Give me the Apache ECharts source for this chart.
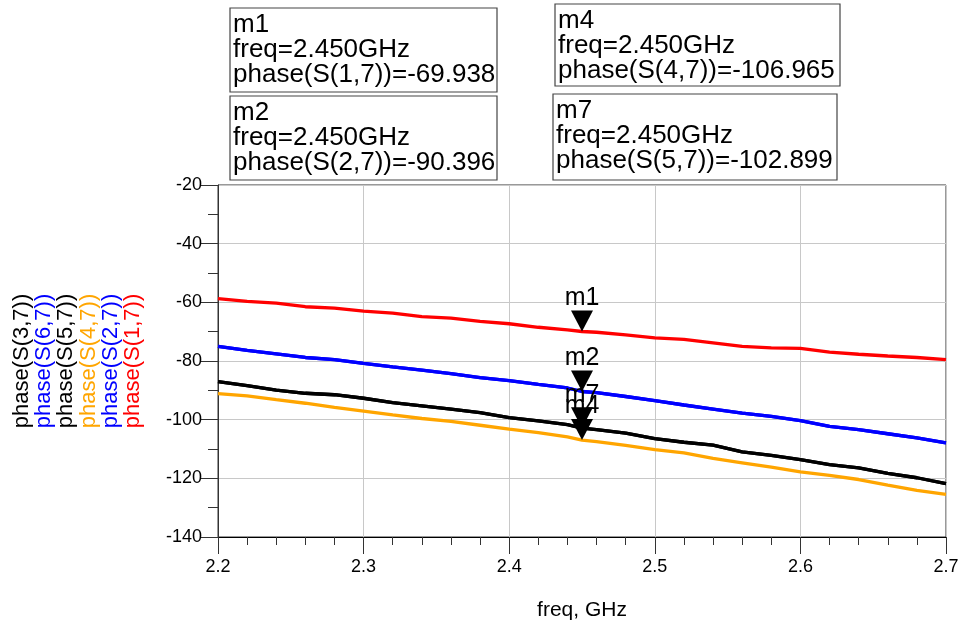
<!DOCTYPE html>
<html>
<head>
<meta charset="utf-8">
<script src="https://cdn.jsdelivr.net/npm/echarts@6/dist/echarts.min.js"></script>
<style>
html,body{margin:0;padding:0;background:#fff;}
#chart{width:962px;height:626px;}
</style>
</head>
<body>
<div id="chart"></div>
<script>
// frequency points (GHz)
var freq = [2.20,2.22,2.24,2.26,2.28,2.30,2.32,2.34,2.36,2.38,2.40,2.42,2.44,2.45,2.46,2.48,2.50,2.52,2.54,2.56,2.58,2.60,2.62,2.64,2.66,2.68,2.70];
// phase values (degrees)
var s17 = [-58.7,-59.7,-60.3,-61.5,-62.0,-63.0,-63.7,-64.9,-65.4,-66.5,-67.3,-68.5,-69.4,-69.938,-70.2,-71.1,-72.1,-72.6,-73.8,-75.0,-75.5,-75.7,-77.0,-77.7,-78.3,-78.8,-79.5];
var s27 = [-75.0,-76.4,-77.6,-78.8,-79.5,-80.8,-82.0,-83.1,-84.3,-85.7,-86.7,-88.0,-89.2,-90.396,-90.8,-92.1,-93.5,-95.0,-96.4,-97.8,-98.9,-100.3,-102.3,-103.4,-104.8,-106.2,-107.9];
var s67 = [-75.0,-76.4,-77.6,-78.8,-79.5,-80.8,-82.0,-83.1,-84.3,-85.7,-86.7,-88.0,-89.2,-90.396,-90.8,-92.1,-93.5,-95.0,-96.4,-97.8,-98.9,-100.3,-102.3,-103.4,-104.8,-106.2,-107.9];
var s57 = [-87.0,-88.4,-89.9,-91.0,-91.5,-92.7,-94.2,-95.3,-96.4,-97.6,-99.3,-100.4,-101.7,-102.899,-103.4,-104.6,-106.5,-107.7,-108.7,-111.0,-112.2,-113.6,-115.3,-116.4,-118.3,-119.8,-121.8];
var s37 = [-87.0,-88.4,-89.9,-91.0,-91.5,-92.7,-94.2,-95.3,-96.4,-97.6,-99.3,-100.4,-101.7,-102.899,-103.4,-104.6,-106.5,-107.7,-108.7,-111.0,-112.2,-113.6,-115.3,-116.4,-118.3,-119.8,-121.8];
var s47 = [-91.1,-91.9,-93.2,-94.4,-95.8,-97.1,-98.4,-99.6,-100.6,-101.9,-103.2,-104.4,-105.9,-106.965,-107.5,-108.8,-110.2,-111.3,-113.2,-114.7,-116.2,-117.8,-119.0,-120.4,-122.3,-124.1,-125.5];
// y-axis legend labels
var yLabels = ['phase(S(3,7))','phase(S(6,7))','phase(S(5,7))','phase(S(4,7))','phase(S(2,7))','phase(S(1,7))'];
// markers
var markerFreq = 2.45;
var markerInfo = [
  {name:'m1', trace:'phase(S(1,7))', value:-69.938},
  {name:'m2', trace:'phase(S(2,7))', value:-90.396},
  {name:'m4', trace:'phase(S(4,7))', value:-106.965},
  {name:'m7', trace:'phase(S(5,7))', value:-102.899}
];

var FONT = 'Liberation Sans, Arial, sans-serif';
var C_RED = '#ff0000', C_BLUE = '#0000ff', C_BLACK = '#000000', C_ORANGE = '#ffa500';
var labelColors = [C_BLACK, C_BLUE, C_BLACK, C_ORANGE, C_BLUE, C_RED];

function pairs(ys){ return freq.map(function(f,i){ return [f, ys[i]]; }); }
var triPath = 'path://M0,0 L22,0 L11,21 Z';
function mk(name, value){
  return {
    silent:true,
    symbol: triPath,
    symbolSize:[22,21],
    symbolOffset:[0,'-50%'],
    itemStyle:{color:'#000'},
    label:{show:true, position:'top', distance:0, formatter:name, color:'#000', fontSize:25, fontFamily:FONT},
    data:[{coord:[markerFreq, value]}]
  };
}
function line(name, color, ys, markName, markVal){
  var s = {
    name:name, type:'line', data:pairs(ys), showSymbol:false, symbol:'none',
    lineStyle:{color:color, width:3.3}, itemStyle:{color:color}, animation:false, z:3
  };
  if (markName) s.markPoint = mk(markName, markVal);
  return s;
}

var chart = echarts.init(document.getElementById('chart'));

var graphics = [];
// rotated y-axis labels
var colX = [22, 44, 66, 88.5, 110.5, 133];
yLabels.forEach(function(t, i){
  graphics.push({
    type:'text', x:colX[i], y:361, rotation:Math.PI/2,
    style:{text:t, fill:labelColors[i], font:'22px ' + FONT, textAlign:'center', textVerticalAlign:'middle'}
  });
});
// marker boxes
var boxes = [
  {m:0, x:230, y:8, w:267, h:84},
  {m:1, x:230, y:96, w:267, h:84},
  {m:2, x:555, y:4, w:285, h:82},
  {m:3, x:553, y:94, w:284, h:86}
];
boxes.forEach(function(b){
  var mi = markerInfo[b.m];
  graphics.push({type:'rect', shape:{x:b.x, y:b.y, width:b.w, height:b.h},
    style:{fill:'#fff', stroke:'#444', lineWidth:1.2}});
  graphics.push({type:'text', x:b.x+3, y:b.y+4,
    style:{text: mi.name + '\nfreq=' + markerFreq.toFixed(3) + 'GHz\n' + mi.trace + '=' + mi.value.toFixed(3),
      font:'26px ' + FONT, lineHeight:25, fill:'#000', textVerticalAlign:'top'}});
});

chart.setOption({
  animation:false,
  backgroundColor:'#fff',
  grid:{left:218, top:185, right:16, bottom:85, show:true, borderColor:'#333', borderWidth:1, containLabel:false},
  xAxis:{
    type:'value', min:2.2, max:2.7, interval:0.1,
    name:'freq, GHz', nameLocation:'middle', nameGap:63,
    nameTextStyle:{color:'#000', fontSize:21, fontFamily:FONT},
    axisLine:{onZero:false, lineStyle:{color:'#000', width:1}},
    axisTick:{show:true, length:17, lineStyle:{color:'#333'}},
    minorTick:{show:true, splitNumber:5, length:8, lineStyle:{color:'#333'}},
    axisLabel:{color:'#000', fontSize:18, fontFamily:FONT, margin:21, formatter:function(v){return v.toFixed(1);}},
    splitLine:{show:true, lineStyle:{color:'#c8c8c8', width:1}}
  },
  yAxis:{
    type:'value', min:-140, max:-20, interval:20,
    axisLine:{onZero:false, lineStyle:{color:'#333', width:1}},
    axisTick:{show:true, length:17, lineStyle:{color:'#333'}},
    minorTick:{show:true, splitNumber:2, length:10, lineStyle:{color:'#333'}},
    axisLabel:{color:'#000', fontSize:18, fontFamily:FONT, margin:16},
    splitLine:{show:true, lineStyle:{color:'#c8c8c8', width:1}}
  },
  series:[
    line('phase(S(3,7))', C_BLACK, s37),
    line('phase(S(6,7))', C_BLUE, s67),
    line('phase(S(1,7))', C_RED, s17, 'm1', markerInfo[0].value),
    line('phase(S(2,7))', C_BLUE, s27, 'm2', markerInfo[1].value),
    line('phase(S(5,7))', C_BLACK, s57, 'm7', markerInfo[3].value),
    line('phase(S(4,7))', C_ORANGE, s47, 'm4', markerInfo[2].value)
  ],
  graphic:graphics
});
</script>
</body>
</html>
